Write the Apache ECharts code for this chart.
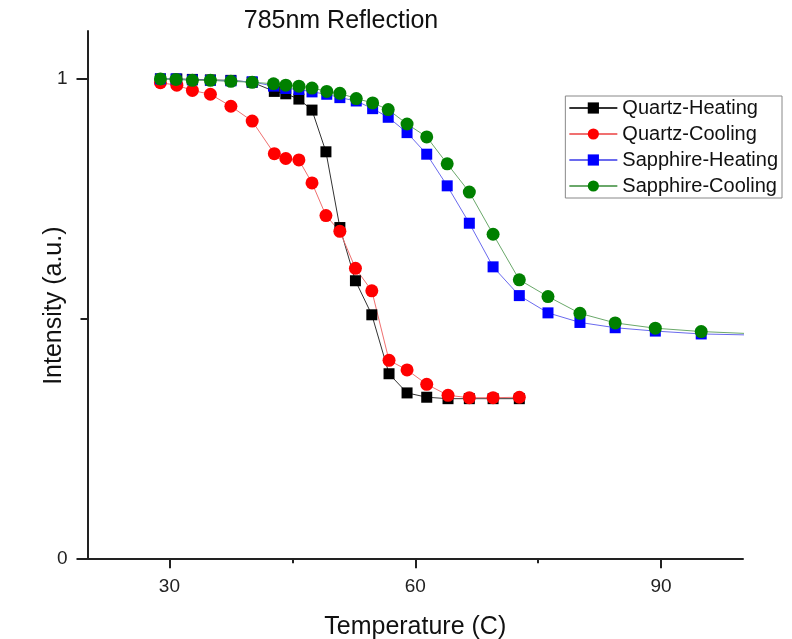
<!DOCTYPE html>
<html>
<head>
<meta charset="utf-8">
<script src="https://cdn.jsdelivr.net/npm/echarts@6/dist/echarts.min.js"></script>
<style>html,body{margin:0;padding:0;background:#fff}#c{width:792px;height:639px}</style>
</head>
<body>
<div id="c"></div>
<script>
var titleText = '785nm Reflection';
var xName = 'Temperature (C)';
var yName = 'Intensity (a.u.)';
var xLabelTicks = [30, 60, 90];
var xMinorTicks = [45, 75];
var yLabelTicks = [0, 1];
var yMinorTicks = [0.5];

var quartzTemps = [28.9, 30.9, 32.8, 35.0, 37.5, 40.1, 42.8, 44.2, 45.8, 47.4, 49.1, 50.8, 52.7, 54.7, 56.8, 59.0, 61.4, 64.0, 66.6, 69.5, 72.7];
var quartzHeating = [1.0, 1.0, 0.999, 0.998, 0.997, 0.993, 0.974, 0.969, 0.958, 0.935, 0.848, 0.690, 0.579, 0.508, 0.385, 0.345, 0.336, 0.333, 0.333, 0.333, 0.333];
var quartzCooling = [0.992, 0.987, 0.976, 0.968, 0.943, 0.912, 0.844, 0.834, 0.831, 0.783, 0.715, 0.682, 0.605, 0.558, 0.413, 0.393, 0.363, 0.340, 0.335, 0.335, 0.336];

var sapphireTemps = [28.9, 30.8, 32.8, 35.0, 37.5, 40.1, 42.7, 44.2, 45.8, 47.4, 49.2, 50.8, 52.8, 54.8, 56.7, 59.0, 61.4, 63.9, 66.6, 69.5, 72.7, 76.2, 80.1, 84.4, 89.3, 94.9, 106];
var sapphireHeating = [1.0, 1.0, 0.998, 0.997, 0.996, 0.994, 0.985, 0.980, 0.978, 0.973, 0.968, 0.961, 0.954, 0.938, 0.920, 0.888, 0.843, 0.777, 0.699, 0.608, 0.548, 0.512, 0.492, 0.481, 0.474, 0.468, 0.464];
var sapphireCooling = [1.0, 0.999, 0.997, 0.997, 0.995, 0.993, 0.990, 0.987, 0.985, 0.981, 0.974, 0.970, 0.959, 0.950, 0.936, 0.906, 0.879, 0.823, 0.764, 0.676, 0.581, 0.546, 0.511, 0.491, 0.480, 0.473, 0.465];

function pairs(xs, ys) { return xs.map(function (x, i) { return [x, ys[i]]; }); }

var FONT = 'Liberation Sans, Arial, sans-serif';
var grid = { left: 87.5, right: 49, top: 31, bottom: 80.7, outerBoundsMode: 'none', containLabel: false };

var chart = echarts.init(document.getElementById('c'));
chart.setOption({
  animation: false,
  backgroundColor: '#fff',
  title: {
    text: titleText, left: 336, top: 4, textAlign: 'center',
    textStyle: { fontFamily: FONT, fontSize: 25, fontWeight: 'normal', color: '#111' }
  },
  legend: {
    right: 10, top: 96, orient: 'vertical',
    borderColor: '#888', borderWidth: 1, padding: [2, 4, 2, 3],
    itemWidth: 48, itemHeight: 14, itemGap: 6,
    textStyle: { fontFamily: FONT, fontSize: 20, color: '#111', lineHeight: 20 },
    data: ['Quartz-Heating', 'Quartz-Cooling', 'Sapphire-Heating', 'Sapphire-Cooling']
  },
  grid: grid,
  xAxis: [{
    type: 'value', min: 20, max: 100,
    name: xName, nameLocation: 'middle', nameGap: 56, nameMoveOverlap: false,
    nameTextStyle: { fontFamily: FONT, fontSize: 25, color: '#111' },
    axisLine: { show: true, onZero: false, lineStyle: { color: '#222', width: 2 } },
    axisTick: { show: true, inside: false, length: 10, customValues: xLabelTicks, lineStyle: { color: '#222', width: 2 } },
    axisLabel: { customValues: xLabelTicks, margin: 19, fontFamily: FONT, fontSize: 19, color: '#222' },
    splitLine: { show: false }
  }, {
    type: 'value', min: 20, max: 100, position: 'bottom',
    axisLine: { show: false, onZero: false },
    axisTick: { show: true, length: 5, customValues: xMinorTicks, lineStyle: { color: '#222', width: 2 } },
    axisLabel: { show: false },
    splitLine: { show: false }
  }],
  yAxis: [{
    type: 'value', min: 0, max: 1.1,
    name: yName, nameLocation: 'middle', nameGap: 21, nameRotate: 90, nameMoveOverlap: false,
    nameTextStyle: { fontFamily: FONT, fontSize: 25, color: '#111', padding: [0, 22, 0, 0] },
    axisLine: { show: true, onZero: false, lineStyle: { color: '#222', width: 2 } },
    axisTick: { show: true, length: 11, customValues: yLabelTicks, lineStyle: { color: '#222', width: 2 } },
    axisLabel: { customValues: yLabelTicks, margin: 20, fontFamily: FONT, fontSize: 19, color: '#222' },
    splitLine: { show: false }
  }, {
    type: 'value', min: 0, max: 1.1, position: 'left',
    axisLine: { show: false, onZero: false },
    axisTick: { show: true, length: 7, customValues: yMinorTicks, lineStyle: { color: '#222', width: 2 } },
    axisLabel: { show: false },
    splitLine: { show: false }
  }],
  series: [{
    name: 'Quartz-Heating', type: 'line', symbol: 'rect', symbolSize: 11,
    itemStyle: { color: '#000' }, lineStyle: { color: '#333', width: 1 },
    data: pairs(quartzTemps, quartzHeating)
  }, {
    name: 'Quartz-Cooling', type: 'line', symbol: 'circle', symbolSize: 13,
    itemStyle: { color: '#ff0000' }, lineStyle: { color: '#f07070', width: 1 },
    data: pairs(quartzTemps, quartzCooling)
  }, {
    name: 'Sapphire-Heating', type: 'line', symbol: 'rect', symbolSize: 11,
    itemStyle: { color: '#0000ff' }, lineStyle: { color: '#6a6aee', width: 1 },
    data: pairs(sapphireTemps, sapphireHeating)
  }, {
    name: 'Sapphire-Cooling', type: 'line', symbol: 'circle', symbolSize: 13,
    itemStyle: { color: '#008000' }, lineStyle: { color: '#6aa86a', width: 1 },
    data: pairs(sapphireTemps, sapphireCooling)
  }]
});
</script>
</body>
</html>
